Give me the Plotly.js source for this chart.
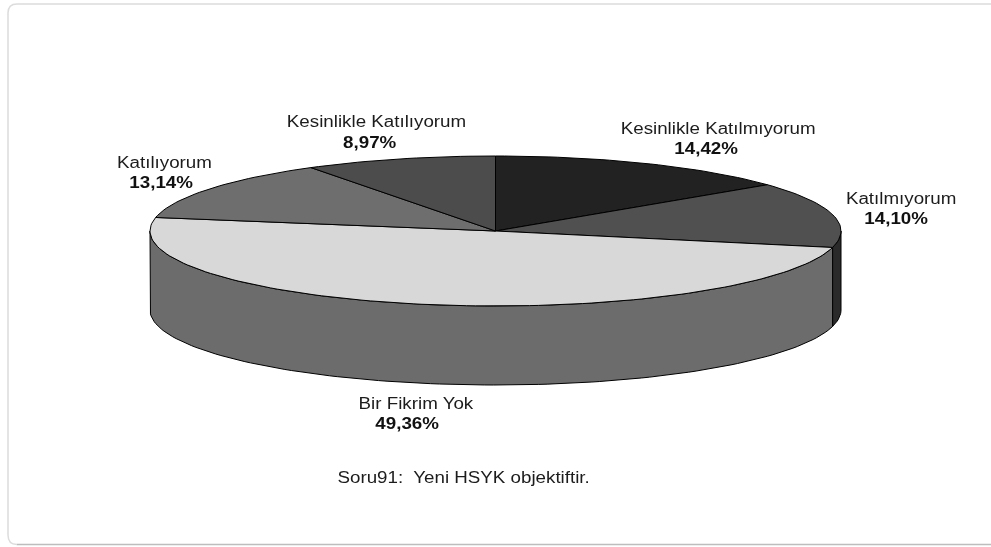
<!DOCTYPE html>
<html>
<head>
<meta charset="utf-8">
<script src="https://cdn.plot.ly/plotly-3.0.1.min.js"></script>
<style>html,body{margin:0;padding:0;background:#fff}#chart{width:991px;height:547px;filter:blur(0.45px)}</style>
</head>
<body>
<div id="chart"></div>
<script>
// Data
const categories = ["Kesinlikle Katılmıyorum", "Katılmıyorum", "Bir Fikrim Yok", "Katılıyorum", "Kesinlikle Katılıyorum"];
const percentages = [14.42, 14.10, 49.36, 13.14, 8.97];
const caption = "Soru91:  Yeni HSYK objektiftir.";

// Styles
const topColors = ["#222222", "#505050", "#d8d8d8", "#6e6e6e", "#4c4c4c"];
const sideColors = ["#1a1a1a", "#2a2a2a", "#6c6c6c", "#555555", "#3a3a3a"];
const textColor = "#1c1c1c";
const textStretch = 1.172; // the reference text is widened horizontally

// Placement of the pie and of its labels, in picture units
const pie = {cx: 495.5, cy: 231, rx: 345.5, ry: 75, depth: 79};
const namePos = [[717.5, 128], [901, 198], [416, 403], [164, 162], [376, 121]];
const pctPos = [[706, 148], [896, 218], [407, 423], [160.5, 182], [369, 142]];
const captionPos = [463, 477];

const total = percentages.reduce((a, b) => a + b, 0);
const rad = d => d * Math.PI / 180;
const ptX = a => pie.cx + pie.rx * Math.sin(rad(a));
const ptY = (a, dz) => pie.cy - pie.ry * Math.cos(rad(a)) + dz;
function arc(a0, a1, dz) {
  const n = Math.max(2, Math.ceil(Math.abs(a1 - a0) / 1.5));
  const xs = [], ys = [];
  for (let i = 0; i <= n; i++) {
    const a = a0 + (a1 - a0) * i / n;
    xs.push(ptX(a)); ys.push(ptY(a, dz));
  }
  return [xs, ys];
}

const sideTraces = [], topTraces = [];
let cum = 0;
percentages.forEach((v, i) => {
  const a0 = cum / total * 360;
  cum += v;
  const a1 = cum / total * 360;
  const s0 = Math.max(a0, 90), s1 = Math.min(a1, 270);
  if (s1 > s0) {
    const [ux, uy] = arc(s0, s1, 0);
    const [lx, ly] = arc(s1, s0, pie.depth);
    sideTraces.push({
      type: "scatter", mode: "lines", name: categories[i],
      x: ux.concat(lx, [ux[0]]), y: uy.concat(ly, [uy[0]]),
      fill: "toself", fillcolor: sideColors[i],
      line: {color: "#000000", width: 1}, hoverinfo: "skip", showlegend: false
    });
  }
  const [tx, ty] = arc(a0, a1, 0);
  topTraces.push({
    type: "scatter", mode: "lines", name: categories[i],
    x: [pie.cx].concat(tx, [pie.cx]), y: [pie.cy].concat(ty, [pie.cy]),
    fill: "toself", fillcolor: topColors[i],
    line: {color: "#000000", width: 1},
    text: categories[i] + ": " + v.toFixed(2).replace(".", ",") + "%",
    hoverinfo: "text", hoveron: "fills", showlegend: false
  });
});

const annotations = [];
categories.forEach((c, i) => {
  annotations.push({x: namePos[i][0], y: namePos[i][1], xref: "x", yref: "y", text: c, showarrow: false,
    xanchor: "center", yanchor: "middle", font: {family: "Liberation Sans", size: 16, color: textColor}});
  annotations.push({x: pctPos[i][0], y: pctPos[i][1], xref: "x", yref: "y",
    text: "<b>" + percentages[i].toFixed(2).replace(".", ",") + "%</b>", showarrow: false,
    xanchor: "center", yanchor: "middle", font: {family: "Liberation Sans", size: 16, color: "#111111"}});
});
annotations.push({x: captionPos[0], y: captionPos[1], xref: "x", yref: "y", text: caption, showarrow: false,
  xanchor: "center", yanchor: "middle", font: {family: "Liberation Sans", size: 16, color: textColor}});

const layout = {
  width: 991, height: 547,
  margin: {l: 0, r: 0, t: 0, b: 0},
  paper_bgcolor: "#ffffff", plot_bgcolor: "#ffffff",
  showlegend: false,
  xaxis: {range: [0, 991], visible: false, fixedrange: true},
  yaxis: {range: [547, 0], visible: false, fixedrange: true},
  annotations,
  shapes: [
    {type: "path", xref: "x", yref: "y", layer: "below",
     path: "M 1000 4 L 17 4 Q 8 4 8 13 L 8 535 Q 8 544.5 17 544.5",
     line: {color: "#dcdcdc", width: 1.5}},
    {type: "path", xref: "x", yref: "y", layer: "below",
     path: "M 17 544.5 L 1000 544.5",
     line: {color: "#bdbdbd", width: 1.5}}
  ]
};

Plotly.newPlot("chart", sideTraces.concat(topTraces), layout, {displayModeBar: false, responsive: false}).then(gd => {
  gd.querySelectorAll(".annotation-text").forEach(t => {
    const w = t.getComputedTextLength();
    t.setAttribute("textLength", (w * textStretch).toFixed(1));
    t.setAttribute("lengthAdjust", "spacingAndGlyphs");
  });
});
</script>
</body>
</html>
